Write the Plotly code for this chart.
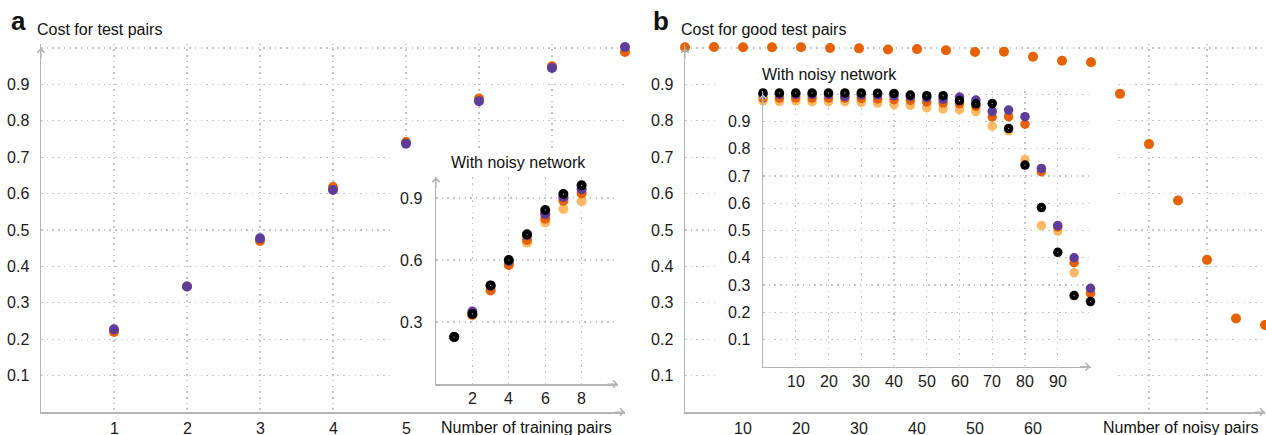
import plotly.graph_objects as go

W, H = 1266, 435

ORANGE = '#e66101'
PURPLE = '#5e3c99'
LIGHT = '#fdb863'
BLACK = '#000000'
GRID = '#c4c4c4'
AXIS = '#b4b4b4'
FONT = 'Liberation Sans, Arial, sans-serif'

# ---------------- data: panel a (main) ----------------
a_x = [1, 2, 3, 4, 5, 6, 7, 8]
a_orange = [0.220, 0.345, 0.470, 0.618, 0.742, 0.861, 0.950, 0.989]
a_purple = [0.227, 0.345, 0.477, 0.610, 0.737, 0.854, 0.945, 1.003]
a_xticks = [1, 2, 3, 4, 5, 6, 7, 8]
a_xticktext = ['1', '2', '3', '4', '5', '', '', '']

# ---------------- data: panel a (inset, noisy network) ----------------
ai_x = [1, 2, 3, 4, 5, 6, 7, 8]
ai_light = [0.227, 0.333, 0.455, 0.578, 0.684, 0.782, 0.847, 0.884]
ai_orange = [0.227, 0.335, 0.452, 0.576, 0.697, 0.800, 0.887, 0.922]
ai_purple = [0.227, 0.351, 0.475, 0.595, 0.720, 0.822, 0.905, 0.942]
ai_black = [0.227, 0.339, 0.477, 0.600, 0.724, 0.842, 0.919, 0.961]
ai_xticks = [2, 4, 6, 8, 10]
ai_xticktext = ['2', '4', '6', '8', '']
ai_yticks = [0.3, 0.6, 0.9]

# ---------------- data: panel b (main) ----------------
b_x = [0, 5, 10, 15, 20, 25, 30, 35, 40, 45, 50, 55, 60, 65, 70, 75, 80, 85, 90, 95, 100]
b_orange = [1.002, 1.003, 1.002, 1.002, 1.002, 1.000, 0.999, 0.996, 0.997, 0.994, 0.989,
            0.990, 0.976, 0.965, 0.961, 0.874, 0.736, 0.581, 0.418, 0.257, 0.239]
b_xticks = [10, 20, 30, 40, 50, 60]
b_xticktext = ['10', '20', '30', '40', '50', '60']
b_xminor = [80, 90]

# ---------------- data: panel b (inset, noisy network) ----------------
bi_x = [0, 5, 10, 15, 20, 25, 30, 35, 40, 45, 50, 55, 60, 65, 70, 75, 80, 85, 90, 95, 100]
bi_light = [0.976, 0.974, 0.976, 0.973, 0.973, 0.973, 0.970, 0.968, 0.962, 0.960, 0.951,
            0.946, 0.944, 0.936, 0.883, 0.866, 0.760, 0.518, 0.498, 0.345, 0.278]
bi_orange = [0.986, 0.986, 0.987, 0.986, 0.986, 0.986, 0.985, 0.983, 0.980, 0.978, 0.972,
             0.968, 0.965, 0.956, 0.917, 0.918, 0.890, 0.716, 0.513, 0.382, 0.269]
bi_purple = [1.000, 1.000, 1.000, 1.000, 1.000, 0.992, 0.998, 0.998, 0.995, 0.992, 0.988,
             0.982, 0.990, 0.979, 0.937, 0.942, 0.918, 0.728, 0.518, 0.400, 0.288]
bi_black = [1.005, 1.005, 1.005, 1.005, 1.005, 1.005, 1.005, 1.004, 1.003, 0.997, 0.995,
            0.995, 0.977, 0.965, 0.966, 0.874, 0.740, 0.584, 0.420, 0.261, 0.239]
bi_xticks = [10, 20, 30, 40, 50, 60, 70, 80, 90, 100]
bi_xticktext = ['10', '20', '30', '40', '50', '60', '70', '80', '90', '']

y_ticks = [0.1, 0.2, 0.3, 0.4, 0.5, 0.6, 0.7, 0.8, 0.9, 1.0]
y_ticktext = ['0.1', '0.2', '0.3', '0.4', '0.5', '0.6', '0.7', '0.8', '0.9', '']


def px(p):
    return p / W


def py(p):
    return 1 - p / H


fig = go.Figure()


def pts(x, y, color, xa, ya, size=10):
    fig.add_trace(go.Scatter(
        x=x, y=y, mode='markers', xaxis=xa, yaxis=ya, cliponaxis=False,
        marker=dict(color=color, size=size, line=dict(width=0)),
        showlegend=False, hoverinfo='skip'))


def empty(xa, ya):
    fig.add_trace(go.Scatter(x=[], y=[], mode='markers', xaxis=xa, yaxis=ya,
                             showlegend=False, hoverinfo='skip'))


# main a (subplot 1)
pts(a_x, a_orange, ORANGE, 'x', 'y')
pts(a_x, a_purple, PURPLE, 'x', 'y')
# cover a (subplot 2) hides main grid behind inset
empty('x2', 'y2')
# inset a (subplot 3)
pts(ai_x, ai_light, LIGHT, 'x3', 'y3')
pts(ai_x, ai_orange, ORANGE, 'x3', 'y3')
pts(ai_x, ai_purple, PURPLE, 'x3', 'y3')
pts(ai_x, ai_black, BLACK, 'x3', 'y3')
pts(ai_x, ai_black, '#bdbdbd', 'x3', 'y3', 1.2)
# main b (subplot 4)
pts(b_x, b_orange, ORANGE, 'x4', 'y4')
# cover b (subplot 5)
empty('x5', 'y5')
# inset b (subplot 6)
pts(bi_x, bi_light, LIGHT, 'x6', 'y6', 9.5)
pts(bi_x, bi_orange, ORANGE, 'x6', 'y6', 9.5)
pts(bi_x, bi_purple, PURPLE, 'x6', 'y6', 9.5)
pts(bi_x, bi_black, BLACK, 'x6', 'y6', 9.5)
pts(bi_x, bi_black, '#bdbdbd', 'x6', 'y6', 1.2)

DASH = '1.5px,4.2px'
tickfont = dict(family=FONT, size=16, color='#1a1a1a')


def xax(domain, rng, anchor, tickvals, grid=True):
    # x tick labels are written as annotations below (exact vertical placement)
    return dict(domain=domain, range=rng, anchor=anchor, tickmode='array',
                tickvals=tickvals, showticklabels=False, showgrid=grid,
                gridcolor=GRID, gridwidth=1.2, griddash=DASH, zeroline=False,
                showline=True, linecolor=AXIS, linewidth=1.5, ticks='',
                fixedrange=True, automargin=False)


def yax(domain, rng, anchor, tickvals, ticktext, standoff=7):
    return dict(domain=domain, range=rng, anchor=anchor, tickmode='array',
                tickvals=tickvals, ticktext=ticktext, showgrid=True,
                gridcolor=GRID, gridwidth=1.2, griddash=DASH, zeroline=False,
                showline=True, linecolor=AXIS, linewidth=1.5, ticks='',
                ticklabelstandoff=standoff, tickfont=tickfont, fixedrange=True,
                automargin=False)


hidden = lambda d, anchor: dict(domain=d, range=[0, 1], anchor=anchor, visible=False,
                                showgrid=False, zeroline=False, fixedrange=True,
                                automargin=False)

MAIN_TOP = 1.012
main_ydom = [py(412), py(48 - (MAIN_TOP - 1) * 364)]
BI_TOP = 1.012
bi_ydom = [py(366.7), py(94.3 - (BI_TOP - 1) * 272.4)]

layout = dict(
    width=W, height=H, autosize=False, margin=dict(l=0, r=0, t=0, b=0, pad=0),
    paper_bgcolor='white', plot_bgcolor='white',
    font=dict(family=FONT, size=16, color='#1a1a1a'),
    xaxis=xax([px(41), px(625)], [0, 8], 'y', a_xticks),
    yaxis=yax(main_ydom, [0, MAIN_TOP], 'x', y_ticks, y_ticktext),
    xaxis2=hidden([px(390), px(640)], 'y2'),
    yaxis2=hidden([py(410), py(149)], 'x2'),
    xaxis3=xax([px(436), px(618)], [0, 10], 'y3', ai_xticks),
    yaxis3=yax([py(384), py(177.3)], [0, 1], 'x3', ai_yticks,
               [str(v) for v in ai_yticks], standoff=9),
    xaxis4=xax([px(685), px(1265)], [0, 100], 'y4', b_xticks, grid=False),
    yaxis4=yax(main_ydom, [0, MAIN_TOP], 'x4', y_ticks, y_ticktext),
    xaxis5=hidden([px(717), px(1114)], 'y5'),
    yaxis5=hidden([py(410), py(69)], 'x5'),
    xaxis6=xax([px(763), px(1090.5)], [0, 100], 'y6', bi_xticks),
    yaxis6=yax(bi_ydom, [0, BI_TOP], 'x6', y_ticks, y_ticktext, standoff=8),
)
layout['xaxis4']['minor'] = dict(tickmode='array', tickvals=b_xminor, showgrid=True,
                                 gridcolor=GRID, gridwidth=1.2, griddash=DASH, ticks='')
fig.update_layout(**layout)


# x tick labels (placed on the axis scale, fixed vertical position)
def xlabels(xref, vals, texts, ypix):
    for v, t in zip(vals, texts):
        if t:
            fig.add_annotation(text=t, x=v, xref=xref, y=py(ypix), yref='paper',
                               xanchor='center', yanchor='middle', showarrow=False,
                               font=tickfont)


xlabels('x', a_xticks, a_xticktext, 428)
xlabels('x3', ai_xticks, ai_xticktext, 398)
xlabels('x4', b_xticks, b_xticktext, 428)
xlabels('x6', bi_xticks, bi_xticktext, 381)


# texts
def txt(text, x, y, size=16, bold=False):
    fig.add_annotation(text=('<b>%s</b>' % text) if bold else text,
                       x=px(x), y=py(y), xref='paper', yref='paper',
                       xanchor='left', yanchor='middle', showarrow=False,
                       font=dict(family=FONT, size=size, color='#111'))


txt('a', 9, 21, 26, True)
txt('Cost for test pairs', 35, 29.6)
txt('With noisy network', 449, 162.6)
txt('Number of training pairs', 439, 427.5)
txt('b', 651, 21, 26, True)
txt('Cost for good test pairs', 679, 29.6)
txt('With noisy network', 760, 74.2)
txt('Number of noisy pairs', 1101, 427.5)


# axis arrowheads
def arrow(xref, yref, x, y, ax, ay):
    fig.add_annotation(text='', x=x, y=y, xref=xref, yref=yref, ax=ax, ay=ay,
                       axref='pixel', ayref='pixel', showarrow=True, arrowhead=4,
                       arrowsize=1.2, arrowwidth=1.2, arrowcolor=AXIS, standoff=0)


arrow('x', 'y', 0, 1.0, 0, 12)
arrow('x domain', 'y', 1, 0, -12, 0)
arrow('x3', 'y3 domain', 0, 1, 0, 12)
arrow('x3 domain', 'y3', 1, 0, -12, 0)
arrow('x4', 'y4', 0, 1.0, 0, 12)
arrow('x4 domain', 'y4', 1, 0, -12, 0)
arrow('x6', 'y6', 0, 1.0, 0, 12)
arrow('x6 domain', 'y6', 1, 0, -12, 0)

fig.write_html("out.html",
               config=dict(displayModeBar=False, staticPlot=True, responsive=False),
               post_script="document.body.style.margin='0';")
